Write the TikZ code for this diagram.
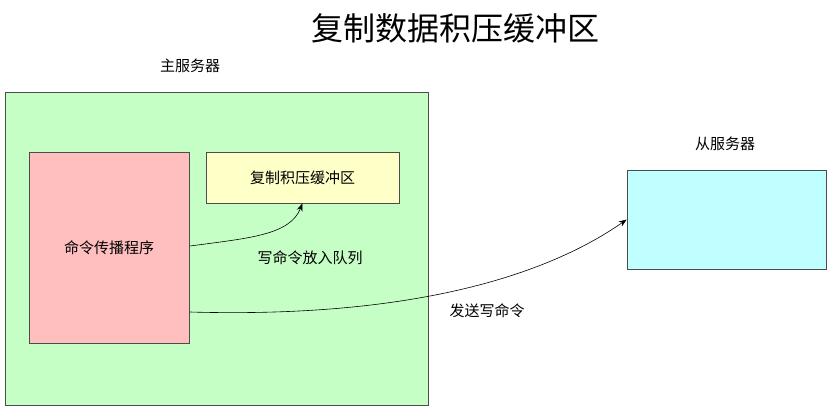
\documentclass[tikz,border=0pt]{standalone}
\usepackage{fontspec}
\setmainfont{Noto Sans CJK SC}
\usetikzlibrary{arrows.meta}
\definecolor{gbox}{HTML}{C6FFC6}
\definecolor{rbox}{HTML}{FFBFBF}
\definecolor{ybox}{HTML}{FFFFC8}
\definecolor{cbox}{HTML}{C0FFFF}
\tikzset{
  box/.style={draw=black!70, line width=0.6pt, inner sep=0pt},
  lbl/.style={font=\fontsize{15}{17}\selectfont},
  conn/.style={-{Stealth[length=8pt,width=6pt]}, line width=0.6pt}
}
\begin{document}
\begin{tikzpicture}[x=1pt,y=-1pt]
\useasboundingbox (0,0) rectangle (829,410);
\node[font=\fontsize{32}{36}\selectfont] (title) at (455,28) {复制数据积压缓冲区};
\node[lbl] (mlabel) at (190,66) {主服务器};
\node[box, fill=gbox, minimum width=423pt, minimum height=313pt] (master) at (216.5,248.5) {};
\node[box, fill=rbox, minimum width=160pt, minimum height=191pt, lbl] (prop) at (109,247.5) {命令传播程序};
\node[box, fill=ybox, minimum width=193pt, minimum height=51pt, lbl] (buf) at (302.5,177.5) {复制积压缓冲区};
\node[lbl] (slabel) at (725,144) {从服务器};
\node[box, fill=cbox, minimum width=199pt, minimum height=99pt] (slave) at (726.5,219.5) {};
\coordinate (p1) at (190,246);
\coordinate (p2) at (190,312);
\draw[conn] (p1) .. controls (250,238) and (290,235) .. (buf.south);
\draw[conn] (p2) .. controls (400,318) and (540,280) .. (slave.west);
\node[lbl] (l1) at (310,258) {写命令放入队列};
\node[lbl] (l2) at (487,311) {发送写命令};
\end{tikzpicture}
\end{document}
